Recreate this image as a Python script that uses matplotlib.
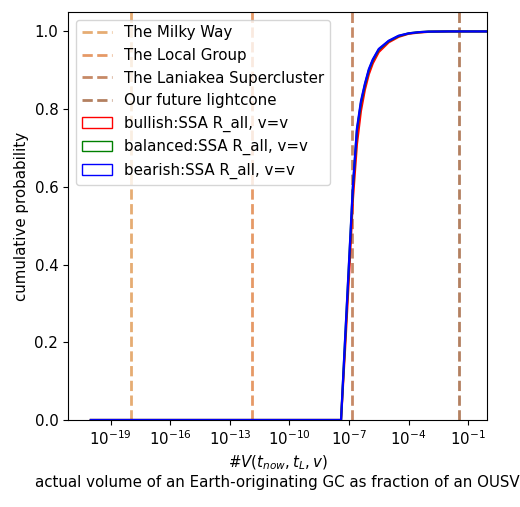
import matplotlib
matplotlib.use("Agg")
import matplotlib.pyplot as plt
import matplotlib.patches as mpatches
import numpy as np

plt.rcParams["font.size"] = 10.8

# Reference volumes (fraction of an OUSV)
ref_labels = ["The Milky Way", "The Local Group", "The Laniakea Supercluster", "Our future lightcone"]
ref_values = [1.1e-18, 1.3e-12, 1.4e-7, 0.036]
ref_colors = ["#e09850", "#e08040", "#b86c40", "#a06038"]

# log10 of the volume fraction grid
log_x = [-20.0, -7.4, -7.2, -7.0, -6.9, -6.8, -6.6, -6.4, -6.2, -6.0, -5.8,
         -5.5, -5.0, -4.5, -4.0, -3.5, -3.0, -2.0, 0.0]

series_labels = ["bullish:SSA R_all, v=v", "balanced:SSA R_all, v=v", "bearish:SSA R_all, v=v"]
series_colors = ["red", "green", "blue"]
cdf_bullish = [0.0, 0.0, 0.18, 0.37, 0.47, 0.57, 0.71, 0.795, 0.85, 0.89, 0.918,
               0.947, 0.972, 0.986, 0.994, 0.997, 0.999, 1.0, 1.0]
cdf_balanced = [0.0, 0.0, 0.2, 0.4, 0.5, 0.6, 0.745, 0.815, 0.862, 0.90, 0.926,
                0.953, 0.975, 0.988, 0.995, 0.998, 0.9995, 1.0, 1.0]
cdf_bearish = [0.0, 0.0, 0.205, 0.405, 0.505, 0.605, 0.75, 0.82, 0.865, 0.903, 0.928,
               0.955, 0.976, 0.989, 0.995, 0.998, 0.9995, 1.0, 1.0]
series_values = [cdf_bullish, cdf_balanced, cdf_bearish]

xticks_exp = [-19, -16, -13, -10, -7, -4, -1]

fig = plt.figure(figsize=(5.2, 5.07), dpi=100)
ax = fig.add_axes([68/520, 1-420/507, (487-68)/520, (420-12)/507])

handles = []
for lab, val, col in zip(ref_labels, ref_values, ref_colors):
    h = ax.axvline(val, color=col, ls="--", lw=2, alpha=0.8, label=lab)
    handles.append(h)

xs = 10.0 ** np.array(log_x)
for lab, vals, col in zip(series_labels, series_values, series_colors):
    ax.plot(xs, vals, color=col, lw=1.6)
    handles.append(mpatches.Patch(facecolor="none", edgecolor=col, label=lab))

ax.set_xscale("log")
ax.set_xlim(10**-21.15, 10**-0.05)
ax.set_ylim(0, 1.05)
ax.set_xticks([10.0**e for e in xticks_exp])
ax.set_xticklabels([f"$10^{{{e}}}$" for e in xticks_exp])
ax.minorticks_off()
ax.set_ylabel("cumulative probability")
ax.set_xlabel("#$V(t_{now}, t_L, v)$\nactual volume of an Earth-originating GC as fraction of an OUSV")
ax.legend(handles=handles, loc="upper left")

fig.savefig("out.png", dpi=100)
